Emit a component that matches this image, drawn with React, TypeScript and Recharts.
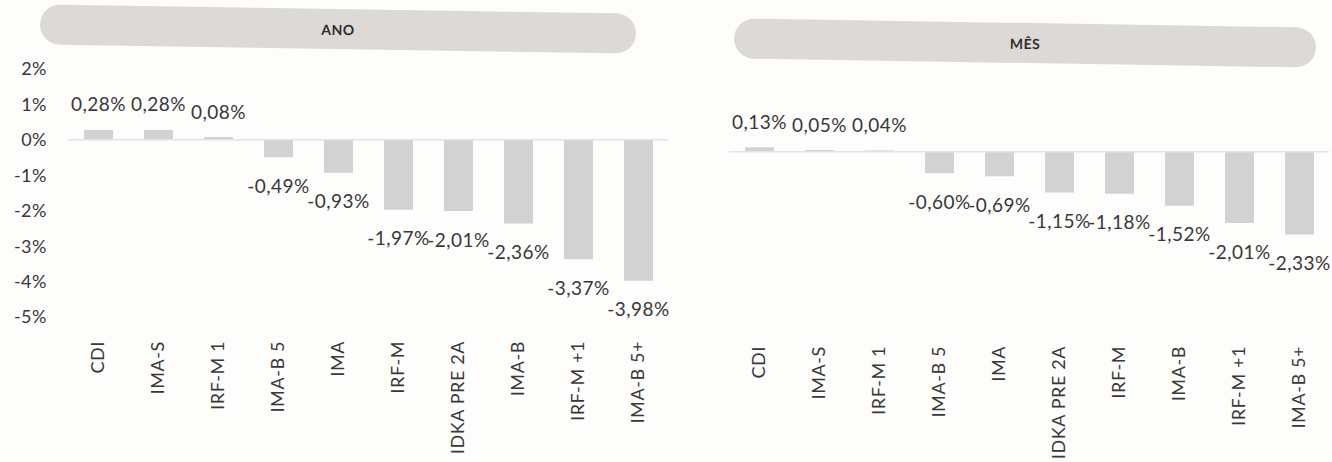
import React from 'react';
import { BarChart, Bar, XAxis, YAxis, LabelList, ReferenceLine } from 'recharts';

const categoriasAno = ['CDI', 'IMA-S', 'IRF-M 1', 'IMA-B 5', 'IMA', 'IRF-M', 'IDKA PRE 2A', 'IMA-B', 'IRF-M +1', 'IMA-B 5+'];
const valoresAno = [0.28, 0.28, 0.08, -0.49, -0.93, -1.97, -2.01, -2.36, -3.37, -3.98];

const categoriasMes = ['CDI', 'IMA-S', 'IRF-M 1', 'IMA-B 5', 'IMA', 'IDKA PRE 2A', 'IRF-M', 'IMA-B', 'IRF-M +1', 'IMA-B 5+'];
const valoresMes = [0.13, 0.05, 0.04, -0.6, -0.69, -1.15, -1.18, -1.52, -2.01, -2.33];

const yTicks = [2, 1, 0, -1, -2, -3, -4, -5];

const FONT = "Lato, 'Open Sans', sans-serif";
const TEXT = '#383838';
const BAR = '#d2d2d2';

const fmt = (v: number) => v.toFixed(2).replace('.', ',') + '%';

const dataAno = categoriasAno.map((name, i) => ({ name, value: valoresAno[i] }));
const dataMes = categoriasMes.map((name, i) => ({ name, value: valoresMes[i] }));

// value labels sit under the end of negative bars, above positive ones
const ValueLabel = (props: any) => {
  const { x, y, width, height, value } = props;
  const top = Math.min(y, y + height);
  const bottom = Math.max(y, y + height);
  const ly = value < 0 ? bottom + 28 : top - 26;
  return (
    <text x={x + width / 2} y={ly} textAnchor="middle" dominantBaseline="central"
      fontFamily={FONT} fontSize={19} letterSpacing={0.5} fill={TEXT}>
      {fmt(value)}
    </text>
  );
};

const CategoryTick = (props: any) => {
  const { x, y, payload } = props;
  return (
    <text transform={`translate(${x},${y}) rotate(-90)`} textAnchor="end" dy="0.35em"
      fontFamily={FONT} fontSize={18} letterSpacing={0.6} fill={TEXT}>
      {payload.value}
    </text>
  );
};

const pill = (left: number, top: number, width: number): React.CSSProperties => ({
  position: 'absolute', left, top, width, height: 40, borderRadius: 20,
  background: '#dcd9d6', transform: 'rotate(0.9deg)',
  display: 'flex', alignItems: 'center', justifyContent: 'center',
  fontFamily: FONT, fontWeight: 700, fontSize: 14, letterSpacing: 0.5, color: '#2e2e2e',
});

export default function App() {
  return (
    <div style={{ position: 'absolute', left: 0, top: 0, width: 1332, height: 462, background: '#fdfdfc', overflow: 'hidden' }}>
      <div style={pill(40, 9, 596)}>ANO</div>
      <div style={pill(734, 23, 582)}>MÊS</div>

      <div style={{ position: 'absolute', left: 0, top: 0 }}>
        <BarChart width={680} height={462} data={dataAno} margin={{ top: 69, right: 12, bottom: 0, left: 0 }}>
          <XAxis dataKey="name" height={145} axisLine={false} tickLine={false} tickSize={0} tickMargin={24}
            interval={0} tick={<CategoryTick />} />
          <YAxis domain={[-5, 2]} ticks={yTicks} width={68} axisLine={false} tickLine={false}
            tickSize={0} tickMargin={21} tickFormatter={(v: number) => `${v}%`}
            tick={{ fontFamily: FONT, fontSize: 18, fill: TEXT, letterSpacing: 0.5 }} />
          <ReferenceLine y={0} stroke="#e3e3e3" strokeWidth={1.5} />
          <Bar dataKey="value" fill={BAR} barSize={29} isAnimationActive={false}>
            <LabelList dataKey="value" content={<ValueLabel />} />
          </Bar>
        </BarChart>
      </div>

      <div style={{ position: 'absolute', left: 661, top: 0 }}>
        <BarChart width={671} height={462} data={dataMes} margin={{ top: 81, right: 3, bottom: 0, left: 68 }}>
          <XAxis dataKey="name" height={133} axisLine={false} tickLine={false} tickSize={0} tickMargin={17}
            interval={0} tick={<CategoryTick />} />
          <YAxis hide domain={[-5, 2]} ticks={yTicks} />
          <ReferenceLine y={0} stroke="#e3e3e3" strokeWidth={1.5} />
          <Bar dataKey="value" fill={BAR} barSize={29} isAnimationActive={false}>
            <LabelList dataKey="value" content={<ValueLabel />} />
          </Bar>
        </BarChart>
      </div>
    </div>
  );
}
